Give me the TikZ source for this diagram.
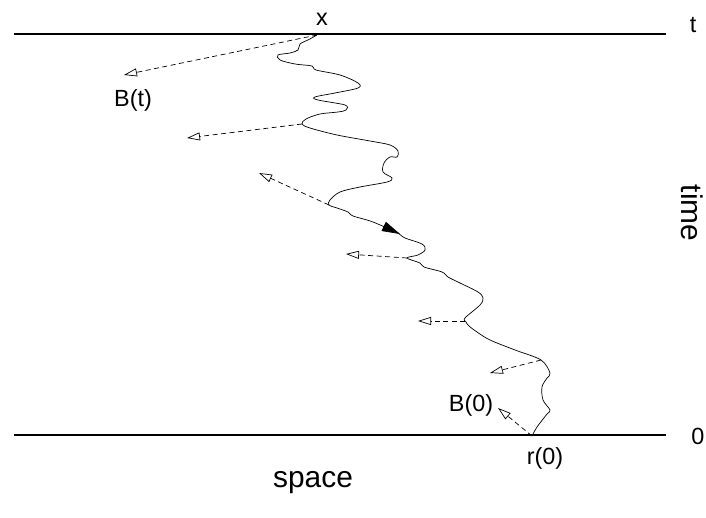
\documentclass[tikz,border=0pt]{standalone}
\usepackage{fontspec}
\setmainfont{Liberation Sans}
\usetikzlibrary{arrows.meta}
\begin{document}
\begin{tikzpicture}[x=1bp, y=-1bp,
  every node/.style={font=\fontsize{23.5}{26}\selectfont, inner sep=0pt},
  axislabel/.style={font=\fontsize{30}{33}\selectfont},
  drift/.style={dash pattern=on 5bp off 3.5bp, line width=0.7bp,
    -{Triangle[open, length=13bp, width=8bp]}}]
\useasboundingbox (0,0) rectangle (706,518);
% time slices
\coordinate (tl) at (14,34);
\coordinate (tr) at (666,34);
\coordinate (zl) at (14,435);
\coordinate (zr) at (666,435);
\draw[line width=2.7bp] (tl) -- (tr);
\draw[line width=2.7bp] (zl) -- (zr);
\node (x) at (322,19) {x};
\node (t) at (693,25) {t};
\node (zero) at (698,436) {0};
\node[axislabel, rotate=-90] (time) at (692,213) {time};
\node[axislabel] (space) at (313,483) {space};
% points on the path
\coordinate (p1) at (317,35);
\coordinate (p2) at (302,124);
\coordinate (p3) at (329,205);
\coordinate (p4) at (407,258);
\coordinate (p5) at (465,321);
\coordinate (p6) at (541,360);
\coordinate (p7) at (532,436);
\coordinate (m) at (398,233);
% the path
\draw[line width=0.7bp, -{Triangle[length=18bp, width=10bp]}]
  plot[smooth, tension=0.55] coordinates {(317,35) (308,40) (300,44) (298,50) (290,53) (278,55)
  (280,60) (295,64) (312,66) (316,70) (340,75) (358,83) (358,88) (335,93) (315,97) (318,100)
  (345,105) (346,110) (338,112) (320,114) (306,119) (302,124) (310,128) (337,135) (370,141)
  (390,145) (398,151) (397,157) (390,157) (384,163) (383,172) (392,178) (387,182) (360,187)
  (340,192) (330,200) (329,205) (337,208) (348,212) (353,216) (373,222) (400,234)};
\draw[line width=0.7bp]
  plot[smooth, tension=0.55] coordinates {(390,229) (398,233) (405,238)
  (422,244) (425,250) (418,255) (407,258) (420,263) (424,267) (442,272) (448,277) (460,283)
  (478,292) (483,298) (480,305) (465,318) (466,322) (469,326) (477,332) (490,340) (515,350)
  (541,360) (550,373) (547,378) (542,387) (543,400) (550,410) (547,414) (537,427) (532,436)};
% drift vectors
\coordinate (q1) at (124,75);
\coordinate (q2) at (187,138);
\coordinate (q3) at (259,173);
\coordinate (q4) at (346,254);
\coordinate (q5) at (418,321);
\coordinate (q6) at (490,373);
\coordinate (q7) at (498,408);
\draw[drift] (p1) -- (q1);
\draw[drift] (p2) -- (q2);
\draw[drift] (p3) -- (q3);
\draw[drift] (p4) -- (q4);
\draw[drift] (p5) -- (q5);
\draw[drift] (p6) -- (q6);
\draw[drift] (p7) -- (q7);
\node (Bt) at (133,100) {B(t)};
\node (B0) at (471,405) {B(0)};
\node (r0) at (545,458) {r(0)};
\end{tikzpicture}
\end{document}
